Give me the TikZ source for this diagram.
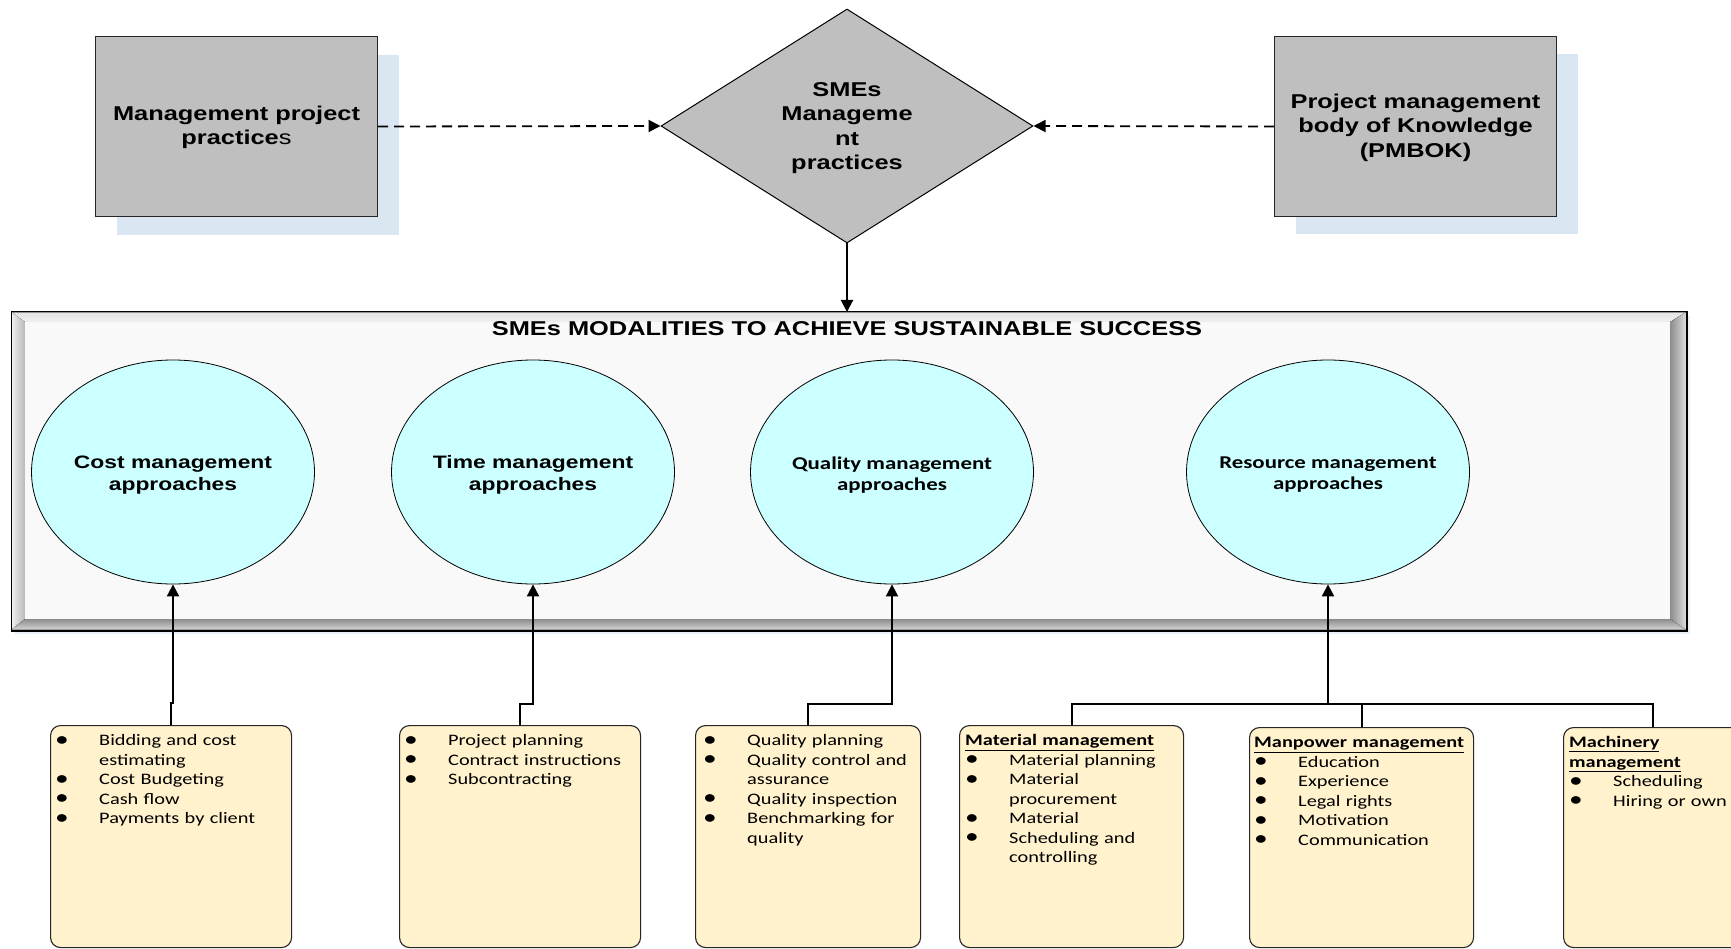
\documentclass[tikz,border=0pt]{standalone}
\usepackage{fontspec}
\setmainfont{Liberation Sans}
\newfontfamily\arialS[FakeStretch=1.27]{Liberation Sans}
\newfontfamily\caliS[FakeStretch=1.27]{Carlito}
\usetikzlibrary{shapes.geometric,arrows.meta}
\definecolor{boxgray}{HTML}{BFBFBF}
\definecolor{shadowblue}{HTML}{DAE6F2}
\definecolor{ellfill}{HTML}{CCFFFF}
\definecolor{notefill}{HTML}{FFF2CC}
\definecolor{panelfill}{HTML}{F9F9F9}
\newlength\bulind
\setlength\bulind{44pt}
\newcommand\nl{\hfil\break}
\newcommand\bi[1]{\par\noindent\hangindent=\bulind\hangafter=1\strut\hbox to\bulind{\raisebox{-0.6pt}{\scalebox{1.35}{\textbullet}}\hfil}#1\par}
\newcommand\hd[1]{\par\noindent\strut\underline{\bfseries #1}\par}
\begin{document}
\begin{tikzpicture}[x=1pt,y=-1pt,
  greybox/.style={draw=black!85, line width=1pt, fill=boxgray, minimum width=282pt, minimum height=180pt, inner sep=0pt, anchor=north west},
  shadowbox/.style={fill=shadowblue, minimum width=282pt, minimum height=180pt, inner sep=0pt, anchor=north west},
  toptext/.style={font=\arialS\bfseries\fontsize{20}{24.5}\selectfont, align=center, inner sep=0pt},
  ell/.style={ellipse, draw=black, line width=0.8pt, fill=ellfill, minimum width=283pt, minimum height=224pt, inner sep=0pt},
  elltextA/.style={font=\arialS\bfseries\fontsize{18}{22}\selectfont, align=center, inner sep=0pt},
  elltextB/.style={font=\caliS\bfseries\fontsize{18}{21}\selectfont, align=center, inner sep=0pt},
  note/.style={draw=black!85, line width=1.1pt, fill=notefill, rounded corners=10pt, minimum height=222pt, inner sep=0pt, anchor=north west},
  listtext/.style={anchor=north west, inner sep=0pt, text width=#1, align=left, font=\caliS\fontsize{16}{19.5}\selectfont},
  dasharrow/.style={draw=black, line width=1.8pt, dash pattern=on 10pt off 6pt, -{Triangle[length=12pt,width=12pt]}},
  solidarrow/.style={draw=black, line width=2pt, -{Triangle[length=12pt,width=12pt]}},
  conn/.style={draw=black, line width=2pt}
]
\useasboundingbox (0,0) rectangle (1731,949);

% top boxes with shadows
\node[shadowbox] at (117,55) {};
\node[greybox] (lb) at (95,36) {};
\node[toptext] at ([yshift=-1pt]lb.center) {Management project\\practice{\mdseries s}};

\node[shadowbox] at (1296,54) {};
\node[greybox] (rb) at (1274,36) {};
\node[toptext] at ([yshift=-1pt]rb.center) {Project management\\body of Knowledge\\(PMBOK)};

% diamond
\node[diamond, draw=black, line width=1pt, fill=boxgray, minimum width=372pt, minimum height=234pt, inner sep=0pt] (dm) at (847,126) {};
\node[toptext] at (847,128) {SMEs\\Manageme\\nt\\practices};

\draw[dasharrow] (lb.east) -- (dm.west);
\draw[dasharrow] (rb.west) -- (dm.east);

% container panel
\fill[color=shadowblue!60] (15,316) rectangle (1690,634);
\node[draw=black, line width=1pt, fill=gray!45, minimum width=1675pt, minimum height=318pt, anchor=north west, inner sep=0pt] (panel) at (11,312) {};
\fill[top color=gray!22, bottom color=gray!12] (11.5,312.5) -- (1685.5,312.5) -- (1670,322) -- (25,322) -- cycle;
\fill[left color=gray!12, right color=gray!55] (11.5,312.5) -- (25,322) -- (25,619) -- (11.5,629.5) -- cycle;
\fill[left color=gray!90, right color=gray!30] (1670,322) -- (1685.5,312.5) -- (1685.5,629.5) -- (1670,619) -- cycle;
\fill[top color=gray!90, bottom color=gray!35] (25,619) -- (1670,619) -- (1685.5,629.5) -- (11.5,629.5) -- cycle;
\fill[panelfill] (25,322) rectangle (1670,619);
\draw[black, line width=1pt] (panel.north west) rectangle (panel.south east);

\draw[solidarrow] (dm.south) -- (dm.south |- panel.north);

\node[font=\arialS\bfseries\fontsize{20}{24}\selectfont, anchor=base, inner sep=0pt] (title) at (847,335) {SMEs MODALITIES TO ACHIEVE SUSTAINABLE SUCCESS};

% ellipses
\node[ell] (e1) at (173,472) {};
\node[elltextA] at ([yshift=-3pt]e1.center) {Cost management\\approaches};
\node[ell] (e2) at (533,472) {};
\node[elltextA] at ([yshift=-3pt]e2.center) {Time management\\approaches};
\node[ell] (e3) at (892,472) {};
\node[elltextB] at ([yshift=-3pt]e3.center) {Quality management\\approaches};
\node[ell] (e4) at (1328,472) {};
\node[elltextB] at ([yshift=-3pt]e4.center) {Resource management\\approaches};

% bottom boxes
\node[note, minimum width=241pt] (b1) at (50,725) {};
\node[listtext=230pt] at (55,726) {%
\bi{Bidding and cost\nl estimating}
\bi{Cost Budgeting}
\bi{Cash flow}
\bi{Payments by client}};

\node[note, minimum width=241pt] (b2) at (399,725) {};
\node[listtext=230pt] at (404,726) {%
\bi{Project planning}
\bi{Contract instructions}
\bi{Subcontracting}};

\node[note, minimum width=225pt] (b3) at (695,725) {};
\node[listtext=215pt] at (703,726) {%
\bi{Quality planning}
\bi{Quality control and\nl assurance}
\bi{Quality inspection}
\bi{Benchmarking for\nl quality}};

\node[note, minimum width=224pt] (b4) at (959,725) {};
\node[listtext=215pt] at (965,726) {%
\hd{Material management}
\bi{Material planning}
\bi{Material\nl procurement}
\bi{Material}
\bi{Scheduling and\nl controlling}};

\node[note, minimum width=224pt, minimum height=220pt] (b5) at (1249,727) {};
\node[listtext=215pt] at (1254,728) {%
\hd{Manpower management}
\bi{Education}
\bi{Experience}
\bi{Legal rights}
\bi{Motivation}
\bi{Communication}};

\node[note, minimum width=224pt, minimum height=220pt] (b6) at (1563,727) {};
\node[listtext=215pt] at (1569,728) {%
\hd{Machinery}
\hd{management}
\bi{Scheduling}
\bi{Hiring or own}};
\coordinate (b6top) at (1653,727);

% connectors
\draw[solidarrow] (b1.north) -- ++(0,-22) -| (e1.south);
\draw[solidarrow] (b2.north) -- ++(0,-21) -| (e2.south);
\draw[solidarrow] (b3.north) -- ++(0,-21) -| (e3.south);
\coordinate (j) at (1328,704);
\draw[conn] (b4.north) |- (j);
\draw[conn] (b5.north) |- (j);
\draw[conn] (b6top) |- (j);
\draw[solidarrow] (j) -- (e4.south);
\end{tikzpicture}
\end{document}
